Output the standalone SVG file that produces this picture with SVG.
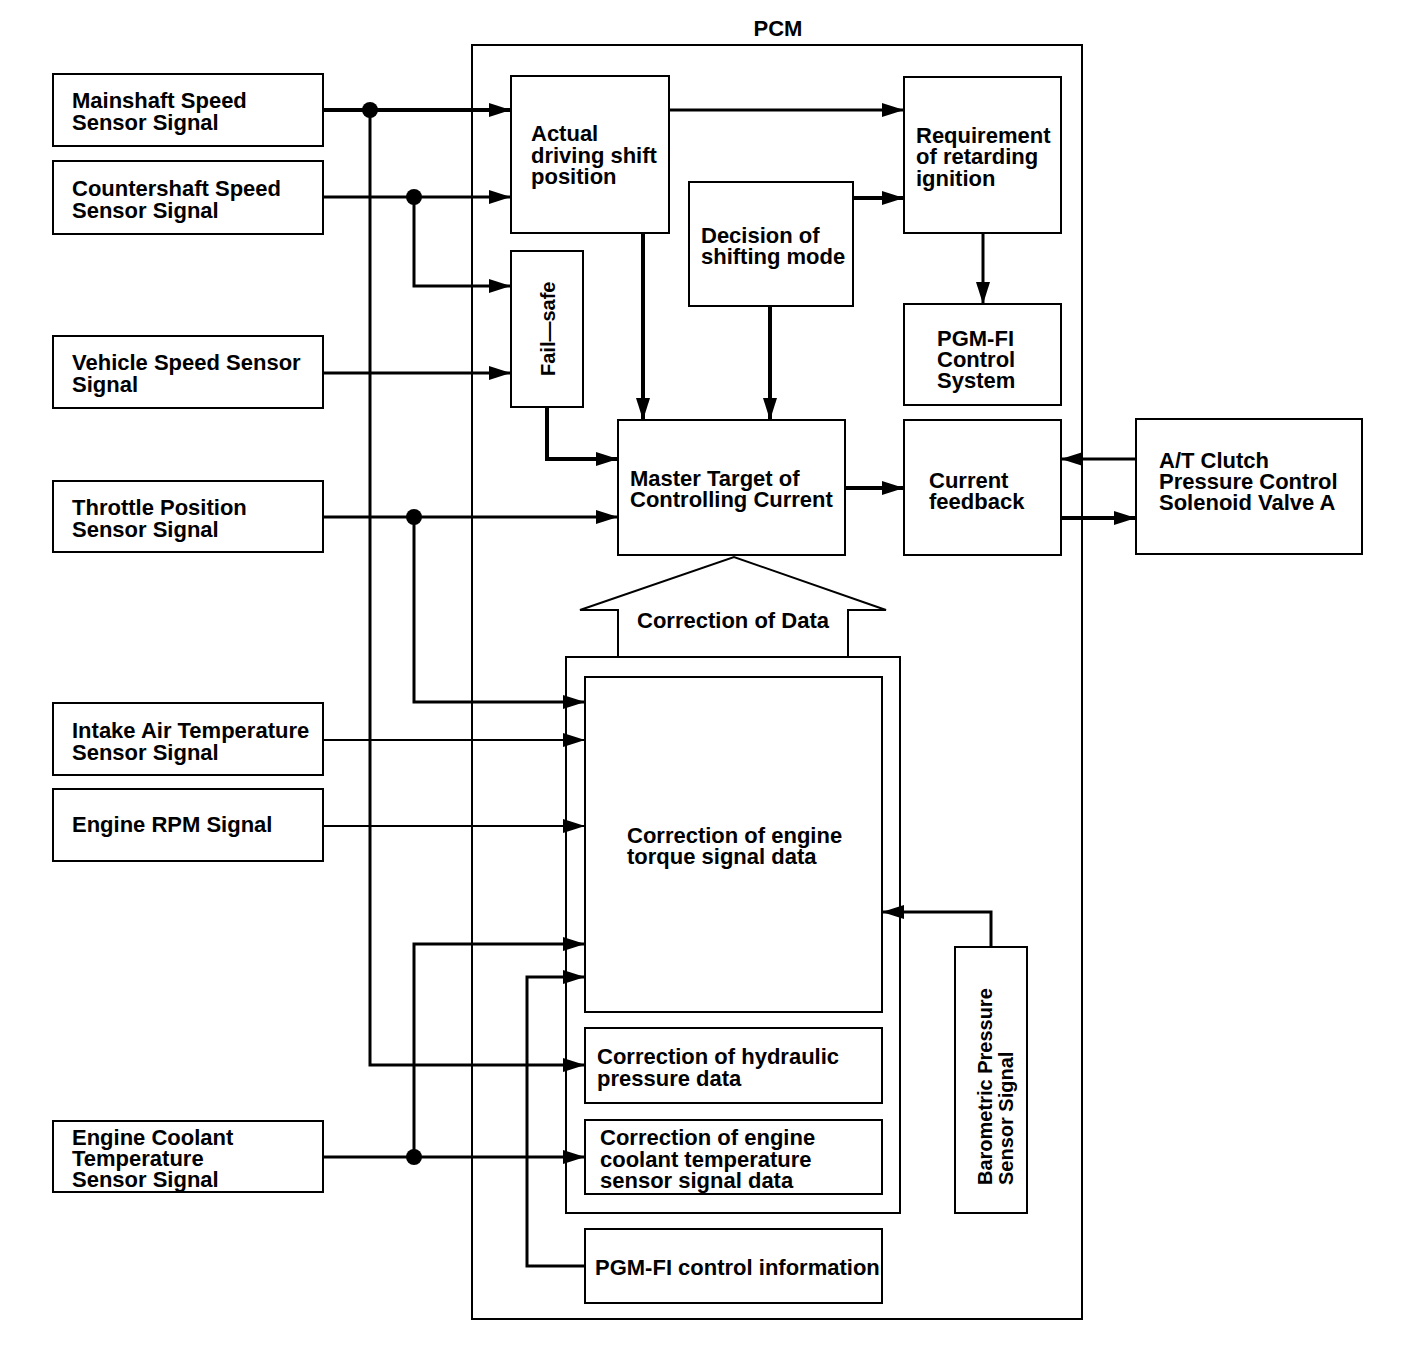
<svg xmlns="http://www.w3.org/2000/svg" width="1408" height="1370" viewBox="0 0 1408 1370">
<defs>
<marker id="ah" markerUnits="userSpaceOnUse" markerWidth="24" markerHeight="14" refX="22" refY="7" orient="auto">
<path d="M0,0 L22,7 L0,14 z" fill="#000"/>
</marker>
<style>
.box{fill:#fff;stroke:#000;stroke-width:2}
.t{font-family:"Liberation Sans",Arial,sans-serif;font-weight:bold;font-size:22px;fill:#000}
.r{font-family:"Liberation Sans",Arial,sans-serif;font-weight:bold;font-size:20px;fill:#000}
.c{fill:none;stroke:#000;stroke-width:3}
.k{fill:none;stroke:#000;stroke-width:4}
.n{fill:none;stroke:#000;stroke-width:2}
.a{marker-end:url(#ah)}
</style>
</defs>
<rect width="1408" height="1370" fill="#fff"/>

<g id="pcm">
<rect class="box" x="472" y="45" width="610" height="1274" fill="none"/>
<text class="t" x="778" y="36" text-anchor="middle">PCM</text>
</g>

<g id="correction-container">
<polygon class="box" points="618,657 618,610 580,610 734,557 886,610 848,610 848,657"/>
<text class="t" x="733" y="628" text-anchor="middle">Correction of Data</text>
<rect class="box" x="566" y="657" width="334" height="556"/>
</g>

<g id="mainshaft"><rect class="box" x="53" y="74" width="270" height="72"/><text class="t" x="72" y="108">Mainshaft Speed<tspan x="72" dy="22">Sensor Signal</tspan></text></g>
<g id="countershaft"><rect class="box" x="53" y="161" width="270" height="73"/><text class="t" x="72" y="196">Countershaft Speed<tspan x="72" dy="22">Sensor Signal</tspan></text></g>
<g id="vehicle-speed"><rect class="box" x="53" y="336" width="270" height="72"/><text class="t" x="72" y="370">Vehicle Speed Sensor<tspan x="72" dy="22">Signal</tspan></text></g>
<g id="throttle"><rect class="box" x="53" y="481" width="270" height="71"/><text class="t" x="72" y="515">Throttle Position<tspan x="72" dy="22">Sensor Signal</tspan></text></g>
<g id="intake-air"><rect class="box" x="53" y="703" width="270" height="72"/><text class="t" x="72" y="738">Intake Air Temperature<tspan x="72" dy="22">Sensor Signal</tspan></text></g>
<g id="engine-rpm"><rect class="box" x="53" y="789" width="270" height="72"/><text class="t" x="72" y="832">Engine RPM Signal</text></g>
<g id="engine-coolant"><rect class="box" x="53" y="1121" width="270" height="71"/><text class="t" x="72" y="1145">Engine Coolant<tspan x="72" dy="21">Temperature</tspan><tspan x="72" dy="21">Sensor Signal</tspan></text></g>

<g id="actual-driving"><rect class="box" x="511" y="76" width="158" height="157"/><text class="t" x="531" y="141">Actual<tspan x="531" dy="22">driving shift</tspan><tspan x="531" dy="21">position</tspan></text></g>
<g id="fail-safe"><rect class="box" x="511" y="251" width="72" height="156"/><text class="r" transform="translate(555,376) rotate(-90)">Fail—safe</text></g>
<g id="decision"><rect class="box" x="689" y="182" width="164" height="124"/><text class="t" x="701" y="243">Decision of<tspan x="701" dy="21">shifting mode</tspan></text></g>
<g id="requirement"><rect class="box" x="904" y="77" width="157" height="156"/><text class="t" x="916" y="143">Requirement<tspan x="916" dy="21">of retarding</tspan><tspan x="916" dy="22">ignition</tspan></text></g>
<g id="pgmfi-system"><rect class="box" x="904" y="304" width="157" height="101"/><text class="t" x="937" y="346">PGM-FI<tspan x="937" dy="21">Control</tspan><tspan x="937" dy="21">System</tspan></text></g>
<g id="master-target"><rect class="box" x="618" y="420" width="227" height="135"/><text class="t" x="630" y="486">Master Target of<tspan x="630" dy="21">Controlling Current</tspan></text></g>
<g id="current-feedback"><rect class="box" x="904" y="420" width="157" height="135"/><text class="t" x="929" y="488">Current<tspan x="929" dy="21">feedback</tspan></text></g>
<g id="at-clutch"><rect class="box" x="1136" y="419" width="226" height="135"/><text class="t" x="1159" y="468">A/T Clutch<tspan x="1159" dy="21">Pressure Control</tspan><tspan x="1159" dy="21">Solenoid Valve A</tspan></text></g>

<g id="torque"><rect class="box" x="585" y="677" width="297" height="335"/><text class="t" x="627" y="843">Correction of engine<tspan x="627" dy="21">torque signal data</tspan></text></g>
<g id="hydraulic"><rect class="box" x="585" y="1028" width="297" height="75"/><text class="t" x="597" y="1064">Correction of hydraulic<tspan x="597" dy="22">pressure data</tspan></text></g>
<g id="coolant-data"><rect class="box" x="585" y="1120" width="297" height="74"/><text class="t" x="600" y="1145">Correction of engine<tspan x="600" dy="22">coolant temperature</tspan><tspan x="600" dy="21">sensor signal data</tspan></text></g>
<g id="pgmfi-info"><rect class="box" x="585" y="1229" width="297" height="74"/><text class="t" x="595" y="1275">PGM-FI control information</text></g>
<g id="barometric"><rect class="box" x="955" y="947" width="72" height="266"/><text class="r" transform="translate(992,1185) rotate(-90)">Barometric Pressure</text><text class="r" transform="translate(1013,1185) rotate(-90)">Sensor Signal</text></g>

<g id="connectors">
<path class="k a" d="M323,110 H511"/>
<path class="c a" d="M370,110 V1065 H585"/>
<path class="c a" d="M323,197 H511"/>
<path class="c a" d="M414,197 V286 H511"/>
<path class="c a" d="M323,373 H511"/>
<path class="k a" d="M547,407 V459 H618"/>
<path class="k a" d="M643,233 V420"/>
<path class="k a" d="M770,306 V420"/>
<path class="c a" d="M669,110 H904"/>
<path class="k a" d="M853,198 H904"/>
<path class="c a" d="M983,233 V304"/>
<path class="k a" d="M845,488 H904"/>
<path class="c a" d="M1136,459 H1061"/>
<path class="k a" d="M1061,518 H1136"/>
<path class="c a" d="M323,517 H618"/>
<path class="c a" d="M414,517 V702 H585"/>
<path class="n a" d="M323,740 H585"/>
<path class="n a" d="M323,826 H585"/>
<path class="c a" d="M323,1157 H585"/>
<path class="c a" d="M414,1157 V944 H585"/>
<path class="c a" d="M585,1266 H527 V977 H585"/>
<path class="c a" d="M991,947 V912 H882"/>
<circle cx="370" cy="110" r="8"/>
<circle cx="414" cy="197" r="8"/>
<circle cx="414" cy="517" r="8"/>
<circle cx="414" cy="1157" r="8"/>
</g>
</svg>
